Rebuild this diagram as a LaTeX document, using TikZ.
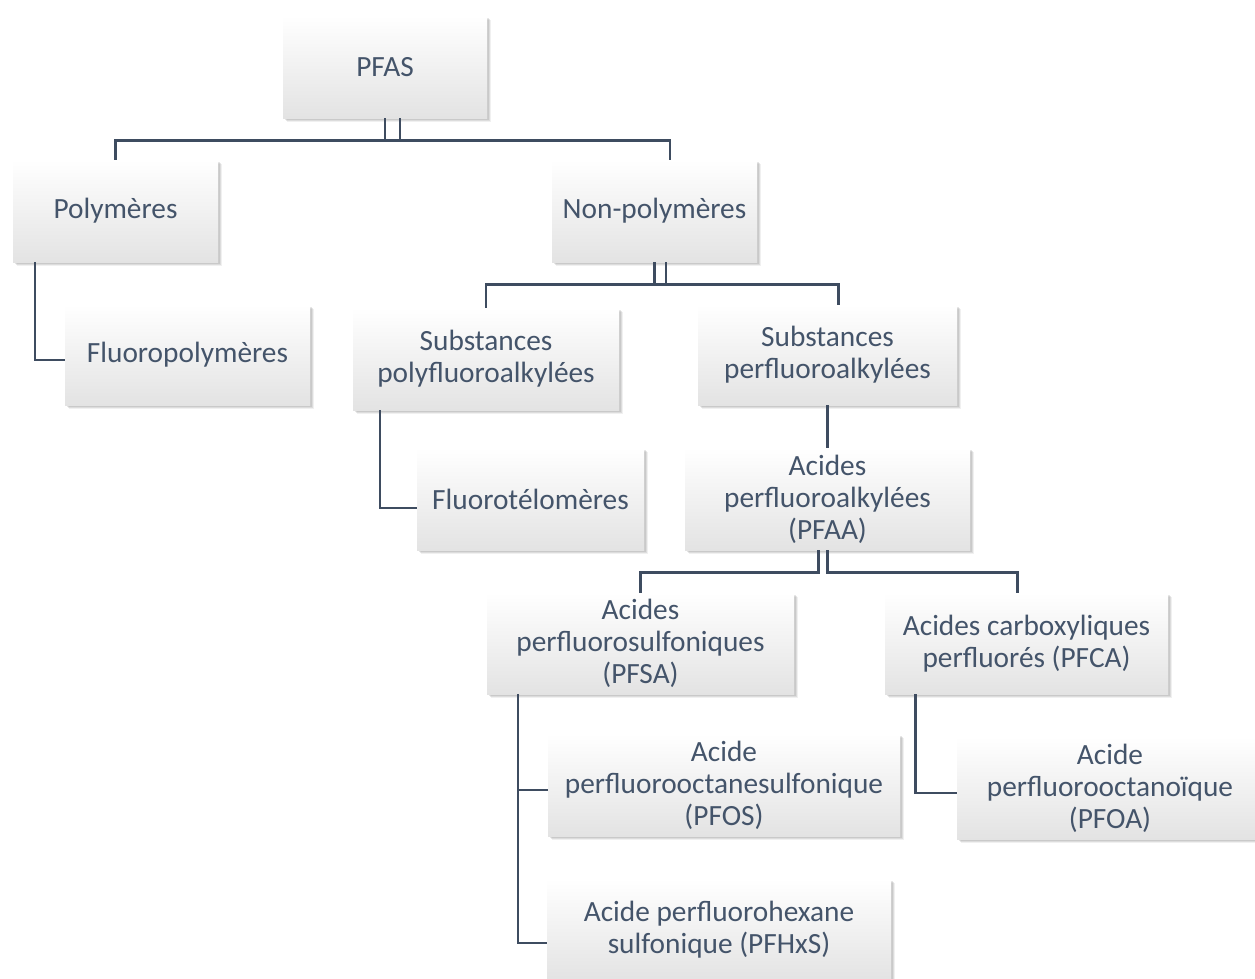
\documentclass[tikz,border=0pt]{standalone}
\usepackage{fontspec}
\setmainfont{Carlito}
\usetikzlibrary{shadows}
\definecolor{txt}{RGB}{68,84,106}
\definecolor{ln}{RGB}{62,76,96}
\tikzset{
  box/.style={rectangle, inner sep=0pt, align=center, text=txt,
    font=\fontsize{22pt}{24pt}\selectfont,
    top color=white, middle color=white!97!black, bottom color=black!11,
    drop shadow={shadow xshift=3.2pt, shadow yshift=-3.2pt, opacity=0.12},
    drop shadow={shadow xshift=2.2pt, shadow yshift=-2.2pt, opacity=0.18},
    drop shadow={shadow xshift=1.2pt, shadow yshift=-1.2pt, opacity=0.2}},
  conn/.style={draw=ln, line width=2.2pt}
}
\newcommand\bx[6]{\node[box, minimum width={(#4-#2)*0.75pt}, minimum height={(#5-#3)*0.75pt}] (#1) at ({(#2+#4)/2},{(#3+#5)/2}) {#6};}
\begin{document}
\begin{tikzpicture}[x=0.75pt,y=-0.75pt]
\useasboundingbox (0,0) rectangle (1255,978);
\bx{pfas}{283}{16}{487}{118}{PFAS}
\bx{poly}{13}{160}{218}{262}{Polymères}
\bx{nonpoly}{552}{160}{757}{262}{Non-polymères}
\bx{fluoropoly}{65}{305}{310}{405}{Fluoropolymères}
\bx{subpoly}{353}{308}{619}{410}{Substances\\polyfluoroalkylées}
\bx{subperf}{698}{305}{957}{405}{Substances\\perfluoroalkylées}
\bx{fluorotel}{417}{448}{644}{550}{Fluorotélomères}
\bx{pfaa}{685}{448}{970}{550}{Acides\\perfluoroalkylées\\(PFAA)}
\bx{pfsa}{487}{593}{794}{694}{Acides\\perfluorosulfoniques\\(PFSA)}
\bx{pfca}{885}{593}{1168}{694}{Acides carboxyliques\\perfluorés (PFCA)}
\bx{pfos}{548}{734}{900}{836}{Acide\\perfluorooctanesulfonique\\(PFOS)}
\bx{pfoa}{957}{737}{1263}{839}{Acide\\perfluorooctanoïque\\(PFOA)}
\bx{pfhxs}{547}{879}{891}{981}{Acide perfluorohexane\\sulfonique (PFHxS)}

\draw[conn] (pfas.south) -- ++(0,22) -| ([xshift=11.6pt]nonpoly.north);
\draw[conn] ([xshift=11.25pt]pfas.south) -- ++(0,22) -| (poly.north);
\draw[conn] (nonpoly.south) -- ++(0,22) -| ([xshift=7.9pt]subperf.north);
\draw[conn] ([xshift=8.6pt]nonpoly.south) -- ++(0,22) -| (subpoly.north);
\draw[conn] ([xshift=-60.4pt]poly.south) |- ([yshift=-3.75pt]fluoropoly.west);
\draw[conn] ([xshift=-79.5pt]subpoly.south) |- ([yshift=-6.75pt]fluorotel.west);
\draw[conn] (subperf.south) -- (pfaa.north);
\draw[conn] ([xshift=-7.1pt]pfaa.south) -- ++(0,22) -| (pfsa.north);
\draw[conn] (pfaa.south) -- ++(0,22) -| ([xshift=-7.1pt]pfca.north);
\draw[conn] ([xshift=-91.9pt]pfsa.south) |- ([yshift=-3.75pt]pfos.west);
\draw[conn] ([xshift=-91.9pt]pfsa.south) |- ([yshift=-9.75pt]pfhxs.west);
\draw[conn] ([xshift=-83.6pt]pfca.south) |- ([yshift=-3.75pt]pfoa.west);
\end{tikzpicture}
\end{document}
